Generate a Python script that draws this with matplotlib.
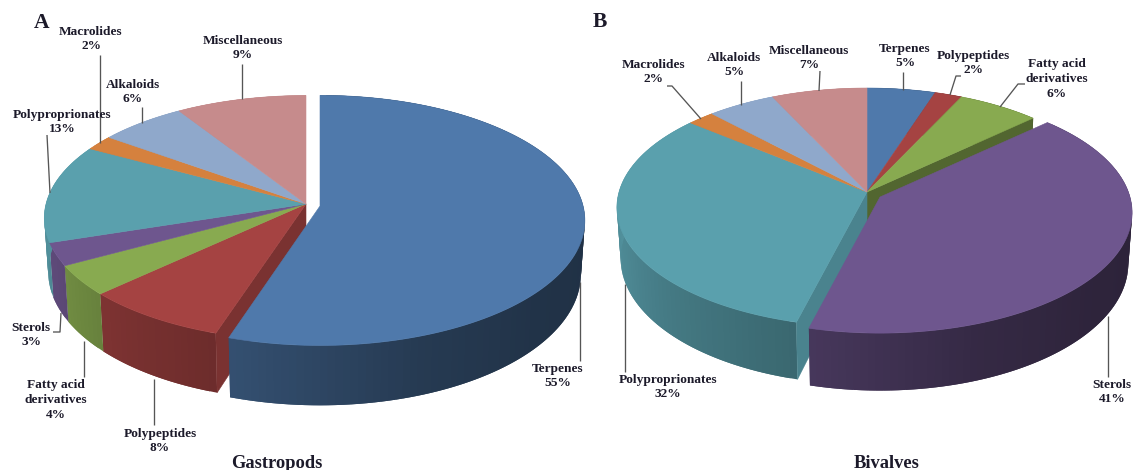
import numpy as np
import matplotlib
matplotlib.use("Agg")
import matplotlib.pyplot as plt
from matplotlib.colors import to_rgb
from matplotlib.patches import Polygon

# Percentages per compound class, clockwise from twelve o'clock
classes = ["Terpenes", "Polypeptides", "Fatty acid\nderivatives", "Sterols",
           "Polyproprionates", "Macrolides", "Alkaloids", "Miscellaneous"]
gastropods = [55, 8, 4, 3, 13, 2, 6, 9]
bivalves = [5, 2, 6, 41, 32, 2, 5, 7]
colours = ["#4f79ab", "#a54342", "#88aa50", "#6e568e",
           "#5aa0ad", "#d5813e", "#8fa8cb", "#c68b8c"]

# Label anchors (x, y of the block centre) and leader polylines, in pixels
gastropod_labels = [(558, 376), (160, 441), (56, 400), (31, 335),
                    (62, 122), (91, 39), (133, 92), (243, 48)]
bivalve_labels = [(905, 56), (973, 63), (1057, 79), (1112, 392),
                  (668, 387), (654, 72), (734, 65), (809, 58)]
gastropod_leaders = [[(580, 282), (580, 361)], [(154, 379), (154, 425)],
                     [(84, 341), (84, 377)], [(53, 332), (60, 332), (61, 313)],
                     [(47, 135), (50, 193)], [(100, 55), (100, 143)],
                     [(142, 107), (142, 123)], [(242, 64), (242, 99)]]
bivalve_leaders = [[(903, 72), (903, 90)], [(961, 76), (956, 76), (950, 95)],
                   [(1025, 84), (1018, 84), (1000, 107)], [(1108, 316), (1108, 377)],
                   [(625, 284), (625, 372)], [(667, 86), (672, 86), (701, 119)],
                   [(741, 81), (741, 105)], [(820, 71), (819, 91)]]

fig = plt.figure(figsize=(11.41, 4.70), dpi=100)
ax = fig.add_axes([0, 0, 1, 1])
ax.set_xlim(0, 1141)
ax.set_ylim(470, 0)
ax.axis("off")

serif = "Liberation Serif"
ink = "#1c1a2a"


def shade(colour, factor):
    return tuple(c * factor for c in to_rgb(colour))


def wall_factor(theta):
    # Lighting of the rim: bright on the left, falling into shadow on the right
    return np.interp(theta, [0, 90, 130, 160, 198, 226, 245, 270, 300, 360],
                     [.40, .40, .42, .48, .66, .76, .84, .90, .92, .92])


def project(theta, cx, cy, rx, s, k):
    """Perspective projection of a point on the rim of the disc."""
    t = np.radians(theta)
    u, v = np.sin(t), np.cos(t)
    w = 1 + k * v
    return cx + rx * u / w, cy - s * v / w, w


def lower(x, y, w, cx, h, taper=0.985):
    """Matching point on the underside of the disc."""
    return cx + (x - cx) * taper, y + h / w


def draw_walls(t0, t1, colour, cx, cy, rx, s, k, h):
    steps = max(2, int((t1 - t0) / 1.5))
    edges = np.linspace(t0, t1, steps + 1)
    step = edges[1] - edges[0]
    for a in edges[:-1]:
        # Each strip runs on under its neighbour so no seams show between them
        b = min(a + 2 * step, t1)
        xa, ya, wa = project(a, cx, cy, rx, s, k)
        xb, yb, wb = project(b, cx, cy, rx, s, k)
        xc, yc = lower(xb, yb, wb, cx, h)
        xd, yd = lower(xa, ya, wa, cx, h)
        col = shade(colour, wall_factor(a + step / 2))
        ax.add_patch(Polygon([(xa, ya), (xb, yb), (xc, yc), (xd, yd)],
                             fc=col, ec="none"))


def draw_top(t0, t1, colour, cx, cy, rx, s, k):
    thetas = np.linspace(t0, t1, max(3, int(t1 - t0) * 2))
    xs, ys, _ = project(thetas, cx, cy, rx, s, k)
    pts = [(cx, cy)] + list(zip(xs, ys))
    ax.add_patch(Polygon(pts, fc=colour, ec=colour, lw=0.4))


def draw_cut(theta, colour, factor, cx, cy, rx, s, k, h):
    x, y, w = project(theta, cx, cy, rx, s, k)
    xb, yb = lower(x, y, w, cx, h)
    col = shade(colour, factor)
    ax.add_patch(Polygon([(cx, cy), (x, y), (xb, yb), (cx, cy + h)],
                         fc=col, ec=col, lw=0.4))


def draw_pie(values, exploded, centre, offset, grow, rx, s, k, h, cut_factors):
    bounds = np.concatenate([[0], np.cumsum(values)]) * 3.6
    cx, cy = centre
    start, end = bounds[exploded], bounds[exploded + 1]
    rest = [i for i in range(len(values)) if i != exploded]

    for i in rest:
        draw_walls(bounds[i], bounds[i + 1], colours[i], cx, cy, rx, s, k, h)
    # Faces left open by the slice pulled out of the disc
    if exploded > 0:
        draw_cut(start, colours[exploded - 1], cut_factors[0], cx, cy, rx, s, k, h)
    draw_cut(end, colours[(exploded + 1) % len(values)], cut_factors[1], cx, cy, rx, s, k, h)
    for i in rest:
        draw_top(bounds[i], bounds[i + 1], colours[i], cx, cy, rx, s, k)

    ox, oy = cx + offset[0], cy + offset[1]
    draw_walls(start, end, colours[exploded], ox, oy, rx * grow[0], s * grow[1], k, h)
    draw_top(start, end, colours[exploded], ox, oy, rx * grow[0], s * grow[1], k)


def draw_labels(values, anchors, leaders):
    for name, val, (x, y), line in zip(classes, values, anchors, leaders):
        ax.plot(*zip(*line), color="#555555", lw=0.95, solid_capstyle="butt", zorder=5)
        ax.text(x, y, f"{name}\n{val}%", ha="center", va="center", family=serif,
                weight="bold", fontsize=9.6, color=ink, linespacing=1.3, zorder=6)


draw_pie(gastropods, 0, (306, 204), (14, 2), (1.012, 1.02), 260, 121, 0.115, 53, (0.76, 0.74))
draw_pie(bivalves, 3, (867, 192), (13, 5), (1.008, 1.008), 248, 117.5, 0.13, 50, (0.60, 0.82))

draw_labels(gastropods, gastropod_labels, gastropod_leaders)
draw_labels(bivalves, bivalve_labels, bivalve_leaders)

ax.text(277, 463, "Gastropods", ha="center", va="center", family=serif,
        weight="bold", fontsize=13.3, color=ink)
ax.text(887, 463, "Bivalves", ha="center", va="center", family=serif,
        weight="bold", fontsize=13.3, color=ink)
ax.text(42, 23, "A", ha="center", va="center", family=serif,
        weight="bold", fontsize=15.5, color=ink)
ax.text(600, 22, "B", ha="center", va="center", family=serif,
        weight="bold", fontsize=15.5, color=ink)

fig.savefig("out.png", dpi=100, facecolor="white")
